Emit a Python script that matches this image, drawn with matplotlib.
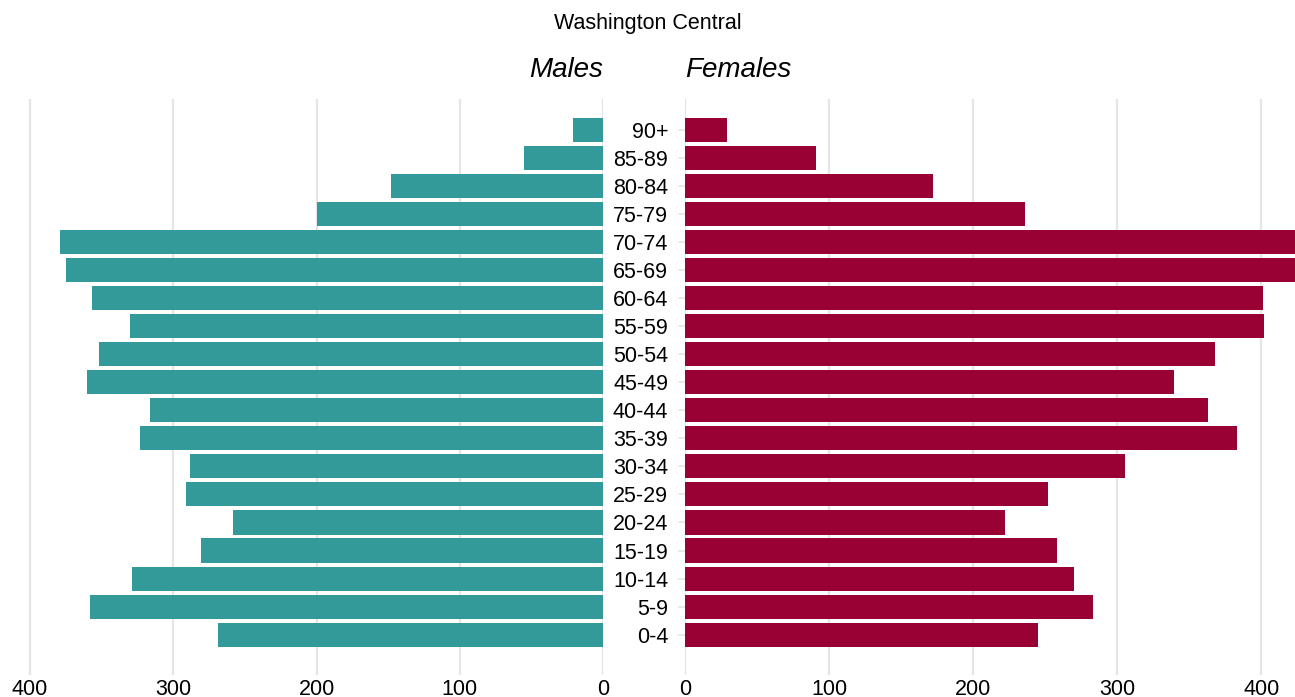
import matplotlib
matplotlib.use("Agg")
import matplotlib.pyplot as plt
import numpy as np

plt.rcParams['font.family'] = ['Liberation Sans', 'DejaVu Sans']

ages = ['0-4', '5-9', '10-14', '15-19', '20-24', '25-29', '30-34', '35-39',
        '40-44', '45-49', '50-54', '55-59', '60-64', '65-69', '70-74',
        '75-79', '80-84', '85-89', '90+']
males = [269, 358, 329, 281, 258, 291, 288, 323, 316, 360, 352, 330, 357,
         375, 379, 200, 148, 55, 21]
females = [245, 283, 270, 258, 222, 252, 305, 383, 363, 339, 368, 402, 401,
           435, 440, 236, 172, 91, 29]

male_col = '#339999'
female_col = '#990033'
grid_col = '#e5e5e5'

W, H = 1295, 697
fig = plt.figure(figsize=(W / 100, H / 100), dpi=100)

bot = (H - 675) / H
hgt = (675 - 99) / H
axL = fig.add_axes([0, bot, 603 / W, hgt])
axR = fig.add_axes([685 / W, bot, 610 / W, hgt])

y = np.arange(len(ages))
axL.barh(y, males, height=0.86, color=male_col, zorder=2)
axR.barh(y, females, height=0.86, color=female_col, zorder=2)

axL.set_xlim(421, 0)
axR.set_xlim(0, 423.3)
for ax in (axL, axR):
    ax.set_ylim(-1.436, 19.094)
    ax.set_xticks([0, 100, 200, 300, 400])
    ax.grid(axis='x', color=grid_col, linewidth=1.6, zorder=0)
    ax.set_axisbelow(True)
    for s in ax.spines.values():
        s.set_visible(False)
    ax.tick_params(axis='x', length=0, pad=3, labelsize=15.5, labelcolor='black')

axL.set_yticks([])
axR.set_yticks(y)
axR.set_yticklabels(ages)
axR.tick_params(axis='y', length=5, width=1.2, color=grid_col, pad=7,
                labelsize=15.5)

fig.text(0.5, (H - 24) / H, 'Washington Central', ha='center', va='center',
         fontsize=15.5)
fig.text(603 / W, (H - 70) / H, 'Males', ha='right', va='center',
         fontsize=20, style='italic')
fig.text(685 / W, (H - 70) / H, 'Females', ha='left', va='center',
         fontsize=20, style='italic')

fig.savefig('out.png', dpi=100)
